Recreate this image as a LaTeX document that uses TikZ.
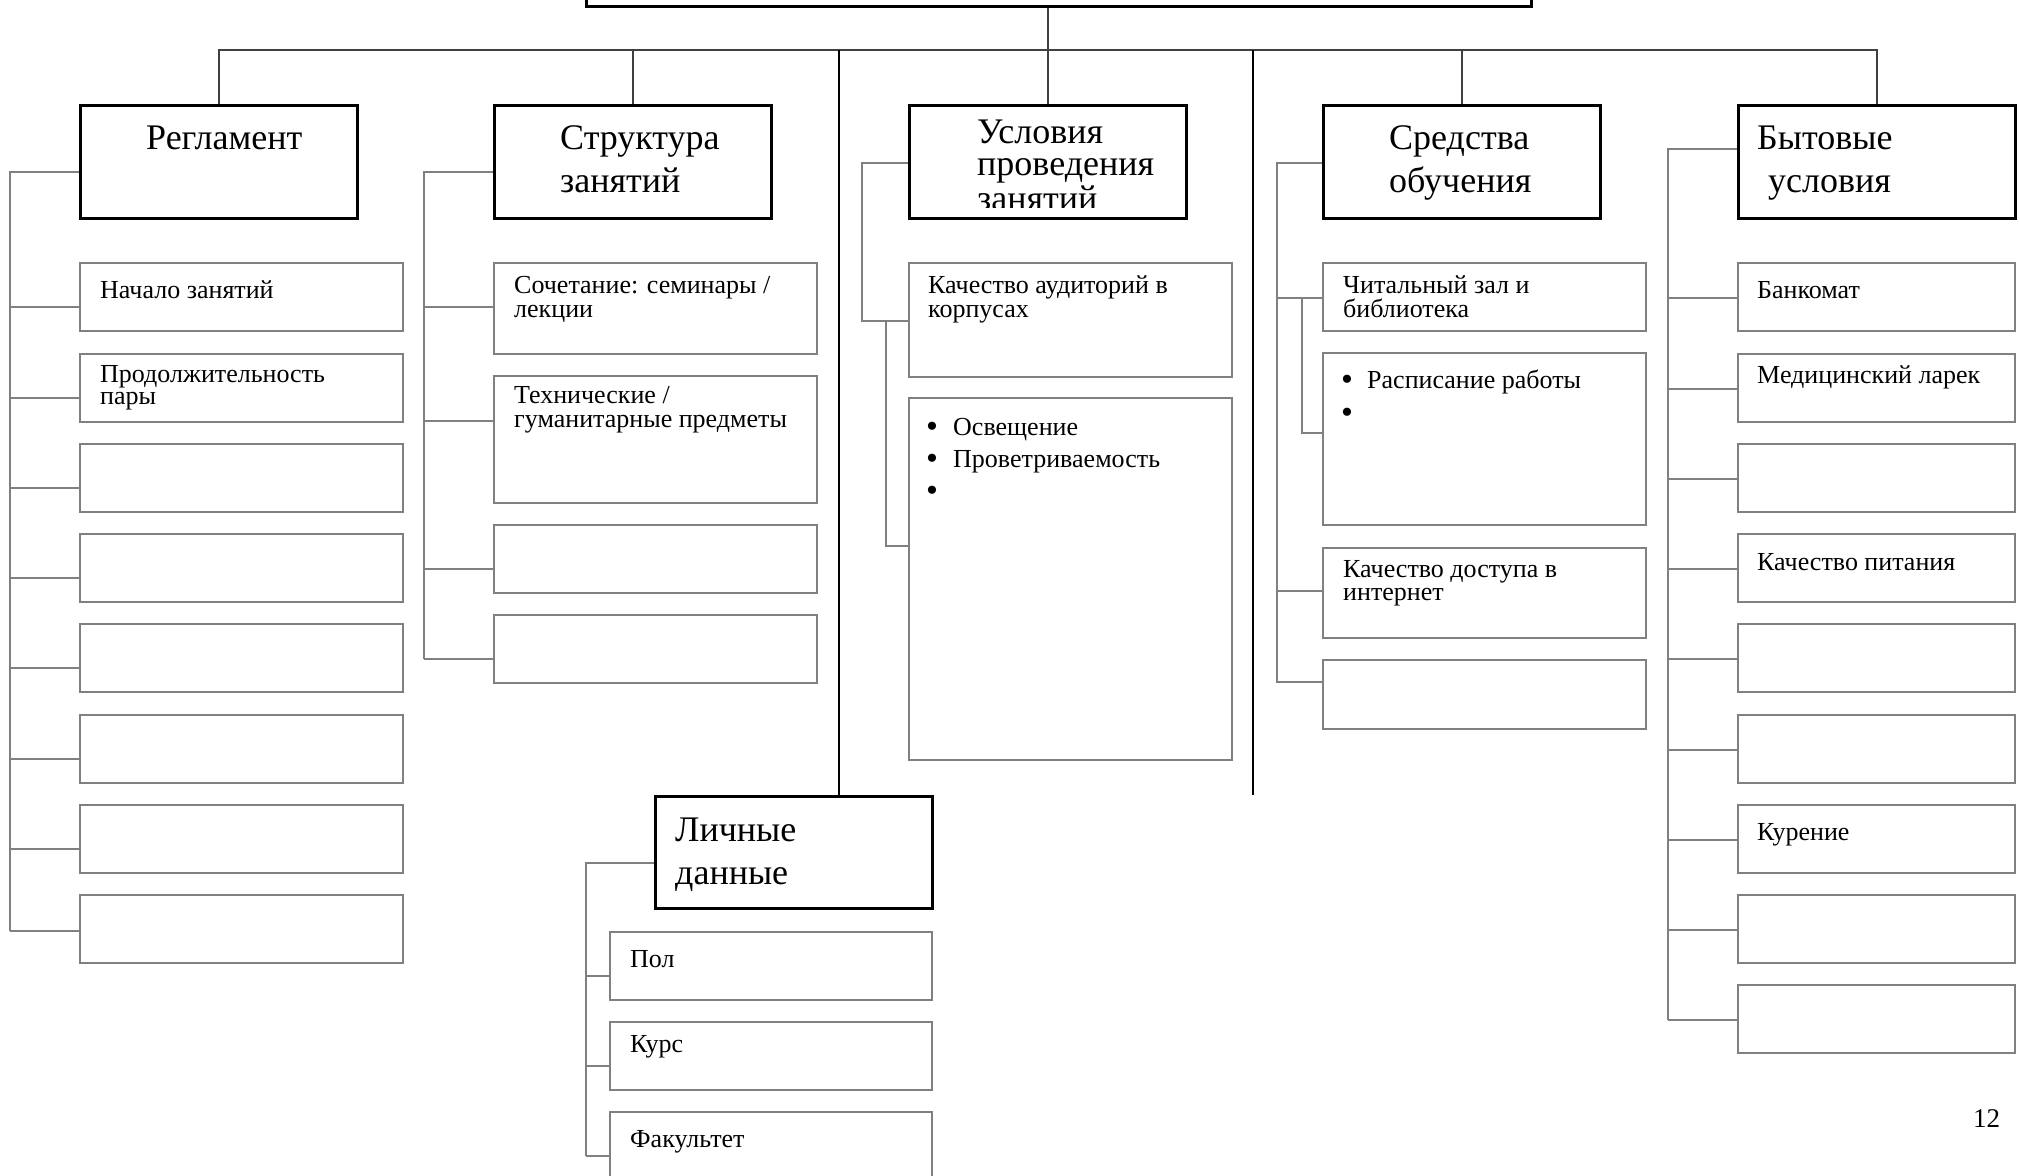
\documentclass[tikz,border=0pt]{standalone}
\usepackage{fontspec}
\setmainfont{Liberation Serif}
\usetikzlibrary{calc}
\definecolor{bordgray}{HTML}{808080}
\definecolor{busgray}{HTML}{404040}
\tikzset{
  mainbox/.style={draw=black, line width=2.6pt, anchor=north west, inner sep=0pt, minimum width=277pt, minimum height=113pt},
  subbox/.style={draw=bordgray, line width=2.4pt, anchor=north west, inner sep=0pt},
  gline/.style={draw=bordgray, line width=2.4pt},
  bline/.style={draw=busgray, line width=2pt},
  kline/.style={draw=black, line width=1.6pt},
  bigtxt/.style={anchor=base west, inner sep=0pt, font=\fontsize{36}{40}\selectfont},
  smtxt/.style={anchor=base west, inner sep=0pt, font=\fontsize{26}{28}\selectfont},
  bultxt/.style={anchor=base west, inner sep=0pt, font=\fontsize{34}{36}\selectfont},
}
\begin{document}
\begin{tikzpicture}[x=1pt,y=-1pt]
\useasboundingbox (0,0) rectangle (2020,1175);
\clip (0,0) rectangle (2020,1175);
\fill[white] (0,0) rectangle (2020,1175);

% ---------- main boxes ----------
\node[mainbox, minimum width=945pt, minimum height=45pt] (top) at (585,-40) {};
\node[mainbox] (reg)  at (79,104) {};
\node[mainbox] (str)  at (493,104) {};
\node[mainbox] (usl)  at (908,104) {};
\node[mainbox] (sred) at (1322,104) {};
\node[mainbox] (byt)  at (1737,104) {};
\node[mainbox, minimum height=112pt] (lich) at (654,795) {};

% ---------- bus ----------
\coordinate (busy) at (0,50);
\draw[bline] (reg.north) -- (reg.north |- busy) -- (byt.north |- busy) -- (byt.north);
\draw[bline] (str.north) -- (str.north |- busy);
\draw[bline] (usl.north) -- (usl.north |- top.south);
\draw[bline] (sred.north) -- (sred.north |- busy);
\coordinate (v1) at (839,50);
\draw[kline] (v1) -- (v1 |- lich.north);
\coordinate (v2a) at (1253,50);
\coordinate (v2b) at (1253,795);
\draw[kline] (v2a) -- (v2b);

% ---------- Регламент ----------
\foreach \i/\t in {1/262,2/353,3/443,4/533,5/623,6/714,7/804,8/894}
  \node[subbox, minimum width=323pt, minimum height=68pt] (r\i) at (79,\t) {};
\coordinate (rsp) at (10,0);
\coordinate (rA) at ($(reg.north west)+(0,68)$);
\foreach \i/\o in {1/45,2/45,3/45,4/45,5/45,6/45,7/45,8/37}{
  \coordinate (rc\i) at ($(r\i.north west)+(0,\o)$);
  \draw[gline] (rc\i) -- (rc\i -| rsp);
}
\draw[gline] (rA) -| (rc8 -| rsp);

% ---------- Структура ----------
\node[subbox, minimum width=323pt, minimum height=91pt]  (s1) at (493,262) {};
\node[subbox, minimum width=323pt, minimum height=127pt] (s2) at (493,375) {};
\node[subbox, minimum width=323pt, minimum height=68pt]  (s3) at (493,524) {};
\node[subbox, minimum width=323pt, minimum height=68pt]  (s4) at (493,614) {};
\coordinate (ssp) at (424,0);
\coordinate (sA) at ($(str.north west)+(0,68)$);
\foreach \i/\o in {1/45,2/46,3/45,4/45}{
  \coordinate (sc\i) at ($(s\i.north west)+(0,\o)$);
  \draw[gline] (sc\i) -- (sc\i -| ssp);
}
\draw[gline] (sA) -| (sc4 -| ssp);

% ---------- Условия ----------
\node[subbox, minimum width=323pt, minimum height=114pt] (u1) at (908,262) {};
\node[subbox, minimum width=323pt, minimum height=362pt] (u2) at (908,397) {};
\coordinate (usp1) at (862,0);
\coordinate (usp2) at (886,0);
\coordinate (uA) at ($(usl.north west)+(0,59)$);
\coordinate (uc1) at ($(u1.north west)+(0,59)$);
\coordinate (uc2) at ($(u2.north west)+(0,149)$);
\draw[gline] (uA) -| (uc1 -| usp1) -- (uc1);
\draw[gline] (uc1 -| usp2) -- (uc2 -| usp2) -- (uc2);

% ---------- Средства ----------
\node[subbox, minimum width=323pt, minimum height=68pt]  (c1) at (1322,262) {};
\node[subbox, minimum width=323pt, minimum height=172pt] (c2) at (1322,352) {};
\node[subbox, minimum width=323pt, minimum height=90pt]  (c3) at (1322,547) {};
\node[subbox, minimum width=323pt, minimum height=69pt]  (c4) at (1322,659) {};
\coordinate (csp1) at (1277,0);
\coordinate (csp2) at (1302,0);
\coordinate (cA) at ($(sred.north west)+(0,59)$);
\coordinate (cc1) at ($(c1.north west)+(0,36)$);
\coordinate (cc2) at ($(c2.north west)+(0,81)$);
\coordinate (cc3) at ($(c3.north west)+(0,44)$);
\coordinate (cc4) at ($(c4.north west)+(0,23)$);
\draw[gline] (cA) -| (cc4 -| csp1) -- (cc4);
\draw[gline] (cc1 -| csp1) -- (cc1);
\draw[gline] (cc3 -| csp1) -- (cc3);
\draw[gline] (cc1 -| csp2) -- (cc2 -| csp2) -- (cc2);

% ---------- Бытовые ----------
\foreach \i/\t in {1/262,2/353,3/443,4/533,5/623,6/714,7/804,8/894,9/984}
  \node[subbox, minimum width=277pt, minimum height=68pt] (b\i) at (1737,\t) {};
\coordinate (bsp) at (1668,0);
\coordinate (bA) at ($(byt.north west)+(0,45)$);
\foreach \i in {1,...,9}{
  \coordinate (bc\i) at ($(b\i.north west)+(0,36)$);
  \draw[gline] (bc\i) -- (bc\i -| bsp);
}
\draw[gline] (bA) -| (bc9 -| bsp);

% ---------- Личные данные ----------
\foreach \i/\t in {1/931,2/1021,3/1111}
  \node[subbox, minimum width=322pt, minimum height=68pt] (l\i) at (609,\t) {};
\coordinate (lsp) at (586,0);
\coordinate (lA) at ($(lich.north west)+(0,68)$);
\foreach \i in {1,2,3}{
  \coordinate (lc\i) at ($(l\i.north west)+(0,45)$);
  \draw[gline] (lc\i) -- (lc\i -| lsp);
}
\draw[gline] (lA) -| (lc3 -| lsp);

% ---------- level-1 texts ----------
\node[bigtxt] (treg) at (146,149) {Регламент};
\node[bigtxt] (tstr1) at (560,149) {Структура};
\node[bigtxt] (tstr2) at (560,192) {занятий};
\node[bigtxt] (tusl1) at (977,143) {Условия};
\node[bigtxt] (tusl2) at (977,175) {проведения};
\begin{scope}
  \clip (usl.north west) rectangle ($(usl.south east)+(0,-12)$);
  \node[bigtxt] (tusl3) at (977,210) {занятий};
\end{scope}
\node[bigtxt] (tsred1) at (1389,149) {Средства};
\node[bigtxt] (tsred2) at (1389,192) {обучения};
\node[bigtxt] (tbyt1) at (1757,149) {Бытовые};
\node[bigtxt] (tbyt2) at (1768,192) {условия};
\node[bigtxt] (tlich1) at (675,841) {Личные};
\node[bigtxt] (tlich2) at (675,884) {данные};

% ---------- child texts ----------
\node[smtxt] (tr1) at (100,298) {Начало занятий};
\node[smtxt] (tr2a) at (100,382) {Продолжительность};
\node[smtxt] (tr2b) at (100,404) {пары};
\node[smtxt] (ts1a) at (514,293) {Сочетание: семинары /};
\node[smtxt] (ts1b) at (514,317) {лекции};
\node[smtxt] (ts2a) at (514,403) {Технические /};
\node[smtxt] (ts2b) at (514,427) {гуманитарные предметы};
\node[smtxt] (tu1a) at (928,293) {Качество аудиторий в};
\node[smtxt] (tu1b) at (928,317) {корпусах};
\node[bultxt] (tu2b1) at (926,437) {•};
\node[smtxt] (tu2a) at (953,435) {Освещение};
\node[bultxt] (tu2b2) at (926,469) {•};
\node[smtxt] (tu2b) at (953,467) {Проветриваемость};
\node[bultxt] (tu2b3) at (926,501) {•};
\node[smtxt] (tc1a) at (1343,293) {Читальный зал и};
\node[smtxt] (tc1b) at (1343,317) {библиотека};
\node[bultxt] (tc2b1) at (1341,390) {•};
\node[smtxt] (tc2a) at (1367,388) {Расписание работы};
\node[bultxt] (tc2b2) at (1341,423) {•};
\node[smtxt] (tc3a) at (1343,577) {Качество доступа в};
\node[smtxt] (tc3b) at (1343,600) {интернет};
\node[smtxt] (tb1) at (1757,298) {Банкомат};
\node[smtxt] (tb2) at (1757,383) {Медицинский ларек};
\node[smtxt] (tb4) at (1757,570) {Качество питания};
\node[smtxt] (tb7) at (1757,840) {Курение};
\node[smtxt] (tl1) at (630,967) {Пол};
\node[smtxt] (tl2) at (630,1052) {Курс};
\node[smtxt] (tl3) at (630,1147) {Факультет};
\node[anchor=base west, inner sep=0pt, font=\fontsize{27}{30}\selectfont] (pgno) at (1973,1127) {12};
\end{tikzpicture}
\end{document}
